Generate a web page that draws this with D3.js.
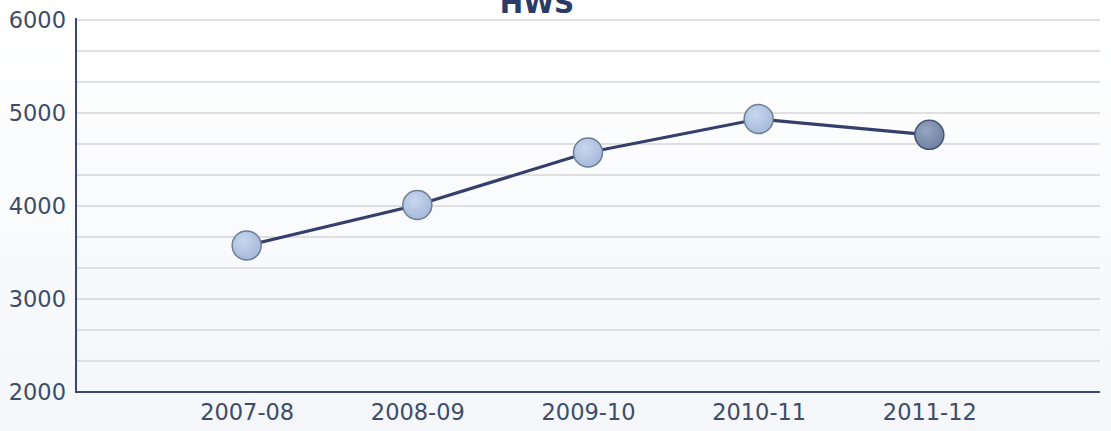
<!DOCTYPE html>
<html><head><meta charset="utf-8">
<script src="https://cdn.jsdelivr.net/npm/d3@7"></script>
<style>body{margin:0;background:#fff;}svg{display:block;}</style>
</head><body>
<svg id="c" width="1111" height="431"></svg>
<script>
const categories = ["2007-08","2008-09","2009-10","2010-11","2011-12"];
const values = [3575, 4010, 4575, 4935, 4765];
const yTicks = [2000,3000,4000,5000,6000];
const title = "HWS";

const svg = d3.select("#c");
const m = {l:76, r:1100, t:20, b:392};
const defs = svg.append("defs");
const bg = defs.append("linearGradient").attr("id","bg").attr("x1",0).attr("y1",0).attr("x2",0).attr("y2",1);
bg.append("stop").attr("offset","0%").attr("stop-color","#ffffff");
bg.append("stop").attr("offset","100%").attr("stop-color","#f4f6fa");
const g1 = defs.append("radialGradient").attr("id","pt").attr("cx","40%").attr("cy","35%").attr("r","70%");
g1.append("stop").attr("offset","0%").attr("stop-color","#c9d7ee");
g1.append("stop").attr("offset","100%").attr("stop-color","#a3b7d8");
const g2 = defs.append("radialGradient").attr("id","pt2").attr("cx","40%").attr("cy","35%").attr("r","70%");
g2.append("stop").attr("offset","0%").attr("stop-color","#95a5c3");
g2.append("stop").attr("offset","100%").attr("stop-color","#6f7f9f");

svg.append("rect").attr("x",0).attr("y",0).attr("width",1111).attr("height",431).attr("fill","url(#bg)");

const x = d3.scalePoint().domain(["_a",...categories,"_b"]).range([m.l,m.r]);
const y = d3.scaleLinear().domain([2000,6000]).range([m.b,m.t]);

// grid
const gridVals = d3.range(0,13).map(i=>2000+i*1000/3);
svg.append("g").selectAll("line").data(gridVals).join("line")
  .attr("x1",m.l).attr("x2",m.r).attr("y1",d=>y(d)).attr("y2",d=>y(d))
  .attr("stroke","#d6d6d6").attr("stroke-width",1.5);

const font = "DejaVu Sans, Verdana, sans-serif";
// y axis
const ya = svg.append("g").attr("transform",`translate(${m.l},0)`)
  .call(d3.axisLeft(y).tickValues(yTicks).tickSize(0).tickPadding(10).tickFormat(d3.format("d")));
ya.select(".domain").remove();
ya.selectAll("text").attr("fill","#3e4c68").style("font-family",font).style("font-size","22.5px").attr("dy","0.35em");

// x axis
const xa = svg.append("g").attr("transform",`translate(0,${m.b})`)
  .call(d3.axisBottom(x).tickValues(categories).tickSize(0).tickPadding(12));
xa.select(".domain").remove();
xa.selectAll("text").attr("fill","#3e4c68").style("font-family",font).style("font-size","22.5px");

svg.append("line").attr("x1",m.l).attr("x2",m.l).attr("y1",m.t-2).attr("y2",m.b+1).attr("stroke","#3b4676").attr("stroke-width",2);
svg.append("line").attr("x1",m.l).attr("x2",m.r).attr("y1",m.b).attr("y2",m.b).attr("stroke","#3b4676").attr("stroke-width",2);

// line
svg.append("path").datum(values)
  .attr("d", d3.line().x((d,i)=>x(categories[i])).y(d=>y(d)))
  .attr("fill","none").attr("stroke","#353f6c").attr("stroke-width",3.2);

svg.append("g").selectAll("circle").data(values).join("circle")
  .attr("cx",(d,i)=>x(categories[i])).attr("cy",d=>y(d)).attr("r",14.5)
  .attr("fill",(d,i)=>i===values.length-1?"url(#pt2)":"url(#pt)")
  .attr("stroke",(d,i)=>i===values.length-1?"#4a5676":"#6e7d98").attr("stroke-width",1.5);

svg.append("text").attr("x",537).attr("y",13).attr("text-anchor","middle")
  .attr("fill","#2c3a66").style("font-family",font)
  .style("font-size","28px").style("font-weight","bold").text(title);
</script>
</body></html>
